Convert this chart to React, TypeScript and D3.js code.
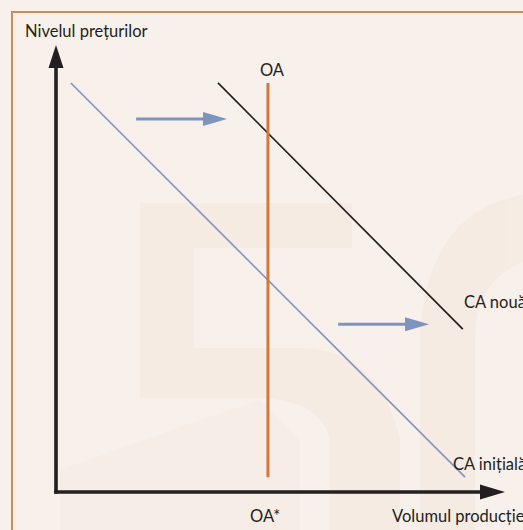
import React, { useEffect, useRef } from 'react';
import * as d3 from 'd3';

// curves (in chart units, 0..10 on each axis)
const caInitiala: [number, number][] = [[0.33, 9.09], [9.09, 0.33]];
const caNoua: [number, number][] = [[3.6, 9.09], [9.04, 3.62]];
const oaX = 4.71;
const oaRange = [0.33, 9.09];
// shift arrows: [xStart, xEnd, y]
const shiftArrows: [number, number, number][] = [
  [1.78, 3.8, 8.29],
  [6.27, 8.29, 3.73],
];

const labels = {
  yAxis: 'Nivelul prețurilor',
  xAxis: 'Volumul producției',
  oa: 'OA',
  oaStar: 'OA*',
  caNoua: 'CA nouă',
  caInitiala: 'CA inițială',
};

export default function App() {
  const svgRef = useRef<SVGSVGElement>(null);

  useEffect(() => {
    if (!svgRef.current) return;
    drawChart();
  }, []);

  const drawChart = () => {
    const svg = d3.select(svgRef.current);
    svg.selectAll('*').remove();

    const W = 523;
    const H = 530;
    const font = 'Lato, "Open Sans", sans-serif';
    const ink = '#231f20';
    const blue = '#7f93bf';
    const orange = '#d4773f';

    svg.attr('width', W).attr('height', H);

    // background + faint watermark
    svg.append('rect').attr('width', W).attr('height', H).attr('fill', '#f8f0ea');
    const wm = svg.append('g').attr('fill', '#f4e6dc').attr('opacity', 0.45);
    wm.append('rect').attr('x', 140).attr('y', 203).attr('width', 212).attr('height', 45);
    wm.append('rect').attr('x', 140).attr('y', 203).attr('width', 54).attr('height', 145);
    wm.append('path')
      .attr('d', 'M140,348 L300,348 Q380,350 400,440 L400,530 L330,530 L330,440 Q320,400 260,398 L140,398 Z');
    wm.append('path')
      .attr('d', 'M420,530 L420,330 Q430,210 523,195 L523,262 Q475,280 475,340 L475,530 Z');
    wm.append('path')
      .attr('d', 'M60,470 L200,420 L260,400 L300,440 L300,530 L60,530 Z')
      .attr('opacity', 0.6);

    // frame
    svg.append('path')
      .attr('d', `M12,${H + 5} L12,12 L${W + 5},12`)
      .attr('fill', 'none')
      .attr('stroke', '#d28a55')
      .attr('stroke-width', 2);

    const x = d3.scaleLinear().domain([0, 10]).range([56, 506]);
    const y = d3.scaleLinear().domain([0, 10]).range([492, 42]);
    const line = d3.line<[number, number]>().x((d) => x(d[0])).y((d) => y(d[1]));

    // axes
    svg.append('line')
      .attr('x1', x(0)).attr('y1', y(0) + 1.7)
      .attr('x2', x(0)).attr('y2', 66)
      .attr('stroke', ink).attr('stroke-width', 3.6);
    svg.append('path')
      .attr('d', `M${x(0)},45 L${x(0) - 7.5},68 L${x(0) + 7.5},68 Z`)
      .attr('fill', ink);
    svg.append('line')
      .attr('x1', x(0) - 1.8).attr('y1', y(0))
      .attr('x2', 484).attr('y2', y(0))
      .attr('stroke', ink).attr('stroke-width', 3.4);
    svg.append('path')
      .attr('d', `M505,${y(0)} L480,${y(0) - 7.5} L480,${y(0) + 7.5} Z`)
      .attr('fill', ink);

    // curves
    svg.append('path').attr('d', line(caInitiala)).attr('stroke', blue).attr('stroke-width', 1.6).attr('fill', 'none');
    svg.append('path').attr('d', line(caNoua)).attr('stroke', ink).attr('stroke-width', 1.7).attr('fill', 'none');
    svg.append('line')
      .attr('x1', x(oaX)).attr('x2', x(oaX))
      .attr('y1', y(oaRange[1])).attr('y2', y(oaRange[0]))
      .attr('stroke', orange).attr('stroke-width', 3);

    // shift arrows
    shiftArrows.forEach(([x0, x1, yy]) => {
      const py = y(yy);
      svg.append('line')
        .attr('x1', x(x0)).attr('x2', x(x1) - 22)
        .attr('y1', py).attr('y2', py)
        .attr('stroke', blue).attr('stroke-width', 3);
      svg.append('path')
        .attr('d', `M${x(x1)},${py} L${x(x1) - 24},${py - 7} L${x(x1) - 24},${py + 7} Z`)
        .attr('fill', blue);
    });

    // texts
    const txt = (t: string, px: number, py: number, anchor = 'start') =>
      svg.append('text')
        .attr('x', px).attr('y', py)
        .attr('text-anchor', anchor)
        .style('font-family', font)
        .style('font-size', '16.5px')
        .style('fill', ink)
        .text(t);

    txt(labels.yAxis, 25, 37);
    txt(labels.oa, x(oaX) + 4, 76, 'middle');
    txt(labels.caNoua, 464, 308);
    txt(labels.caInitiala, 453, 470);
    txt(labels.xAxis, 392, 522);
    txt(labels.oaStar, 250, 522);
  };

  return (
    <div style={{ position: 'absolute', left: 0, top: 0 }}>
      <svg ref={svgRef} style={{ display: 'block' }}></svg>
    </div>
  );
}
